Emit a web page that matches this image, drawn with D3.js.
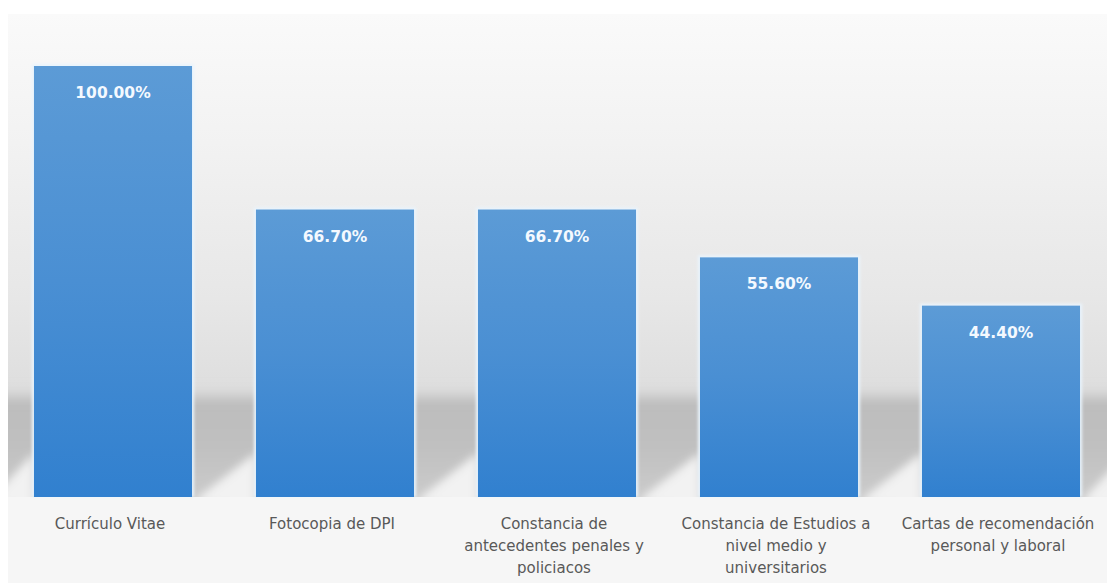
<!DOCTYPE html>
<html>
<head>
<meta charset="utf-8">
<script src="https://cdn.jsdelivr.net/npm/d3@7"></script>
<style>
  html, body { margin: 0; padding: 0; background: #ffffff; }
  svg { display: block; }
</style>
</head>
<body>
<svg id="chart" width="1107" height="583"></svg>
<script>
// Requisitos solicitados y porcentaje de respuesta
const categories = [
  "Currículo Vitae",
  "Fotocopia de DPI",
  "Constancia de antecedentes penales y policiacos",
  "Constancia de Estudios a nivel medio y universitarios",
  "Cartas de recomendación personal y laboral"
];
const categoryLines = [
  ["Currículo Vitae"],
  ["Fotocopia de DPI"],
  ["Constancia de", "antecedentes penales y", "policiacos"],
  ["Constancia de Estudios a", "nivel medio y", "universitarios"],
  ["Cartas de recomendación", "personal y laboral"]
];
const values = [100.0, 66.7, 66.7, 55.6, 44.4];

const W = 1107, H = 583;
const panel = { x: 8, y: 14 };
const baseY = 497, topY = 66;

const svg = d3.select("#chart");
const defs = svg.append("defs");

// backdrop gradient
const bg = defs.append("linearGradient").attr("id", "bgGrad")
  .attr("gradientUnits", "userSpaceOnUse")
  .attr("x1", 0).attr("y1", panel.y).attr("x2", 0).attr("y2", H);
[[0, "#fafafa"], [0.2, "#f3f3f3"], [0.5, "#e7e7e7"], [0.66, "#dedede"], [0.7, "#dcdcdc"], [1, "#f6f6f6"]]
  .forEach(([o, c]) => bg.append("stop").attr("offset", o).attr("stop-color", c));

// floor shadow gradient
const sh = defs.append("linearGradient").attr("id", "shGrad")
  .attr("x1", 0).attr("y1", 0).attr("x2", 0).attr("y2", 1);
[[0, "#dcdcdc", 0], [0.14, "#bdbdbd", 1], [0.5, "#c0c0c0", 1], [1, "#cdcdcd", 1]]
  .forEach(([o, c, a]) => sh.append("stop").attr("offset", o).attr("stop-color", c).attr("stop-opacity", a));

// bar gradient
const bar = defs.append("linearGradient").attr("id", "barGrad")
  .attr("x1", 0).attr("y1", 0).attr("x2", 0).attr("y2", 1);
[[0, "#5c9bd6"], [0.5, "#4a8fd3"], [1, "#3180cf"]]
  .forEach(([o, c]) => bar.append("stop").attr("offset", o).attr("stop-color", c));

defs.append("filter").attr("id", "soft").attr("x", "-10%").attr("y", "-30%")
  .attr("width", "120%").attr("height", "160%")
  .append("feGaussianBlur").attr("stdDeviation", 4);
defs.append("filter").attr("id", "glow").attr("x", "-10%").attr("y", "-10%")
  .attr("width", "120%").attr("height", "120%")
  .append("feGaussianBlur").attr("stdDeviation", 1.5);

const x = d3.scaleBand()
  .domain(categories)
  .range([2, 1112])
  .paddingInner(0.288)
  .paddingOuter(0.144);

const y = d3.scaleLinear().domain([0, 100]).range([baseY, topY]);

// plot backdrop
svg.append("rect")
  .attr("x", panel.x).attr("y", panel.y)
  .attr("width", W - panel.x).attr("height", H - panel.y)
  .attr("fill", "url(#bgGrad)");

// floor shadow behind the bars
const clip = defs.append("clipPath").attr("id", "panelClip");
clip.append("rect").attr("x", panel.x).attr("y", panel.y)
  .attr("width", W - panel.x).attr("height", baseY - panel.y);
const shadowG = svg.append("g").attr("clip-path", "url(#panelClip)")
  .append("g").attr("filter", "url(#soft)");
shadowG.append("rect")
  .attr("x", panel.x - 20).attr("y", 385)
  .attr("width", W - panel.x + 40).attr("height", baseY - 385 + 10)
  .attr("fill", "url(#shGrad)");
// lighter wedge under the diagonal edge in each gap
const gapStarts = [panel.x - 20].concat(categories.map(c => x(c) + x.bandwidth()));
const gapEnds = categories.map(c => x(c)).concat([W + 20]);
gapStarts.forEach((g0, i) => {
  const g1 = gapEnds[i];
  shadowG.append("path")
    .attr("d", `M${g0 + 2},${baseY + 4} L${g1},${baseY - 44} L${g1},${baseY + 14} Z`)
    .attr("fill", "#f2f2f2");
});
svg.append("rect")
  .attr("x", panel.x).attr("y", baseY)
  .attr("width", W - panel.x).attr("height", H - baseY)
  .attr("fill", "#f6f6f6");

// bars with a pale rim
const bars = svg.append("g");
bars.selectAll("rect.rim")
  .data(values)
  .join("rect")
  .attr("class", "rim")
  .attr("x", (d, i) => x(categories[i]) - 2)
  .attr("y", d => y(d) - 2)
  .attr("width", x.bandwidth() + 4)
  .attr("height", d => baseY - y(d) + 2)
  .attr("fill", "#e9f4fd")
  .attr("filter", "url(#glow)");
bars.selectAll("rect.bar")
  .data(values)
  .join("rect")
  .attr("class", "bar")
  .attr("x", (d, i) => x(categories[i]))
  .attr("y", d => y(d))
  .attr("width", x.bandwidth())
  .attr("height", d => baseY - y(d))
  .attr("fill", "url(#barGrad)");

// value labels
svg.append("g").selectAll("text")
  .data(values)
  .join("text")
  .attr("x", (d, i) => x(categories[i]) + x.bandwidth() / 2)
  .attr("y", d => y(d) + 32)
  .attr("text-anchor", "middle")
  .attr("font-family", "'DejaVu Sans', Verdana, sans-serif")
  .attr("font-weight", "bold")
  .attr("font-size", "15.5px")
  .attr("fill", "#f4f9ff")
  .text(d => d.toFixed(2) + "%");

// category labels
const labels = svg.append("g").selectAll("text")
  .data(categoryLines)
  .join("text")
  .attr("x", (d, i) => x(categories[i]) + x.bandwidth() / 2 - 3)
  .attr("y", 529)
  .attr("text-anchor", "middle")
  .attr("font-family", "'DejaVu Sans', Verdana, sans-serif")
  .attr("font-size", "15px")
  .attr("fill", "#595959");
labels.selectAll("tspan")
  .data(d => d)
  .join("tspan")
  .attr("x", function () { return this.parentNode.getAttribute("x"); })
  .attr("dy", (d, i) => i === 0 ? 0 : 22)
  .text(d => d);
</script>
</body>
</html>
